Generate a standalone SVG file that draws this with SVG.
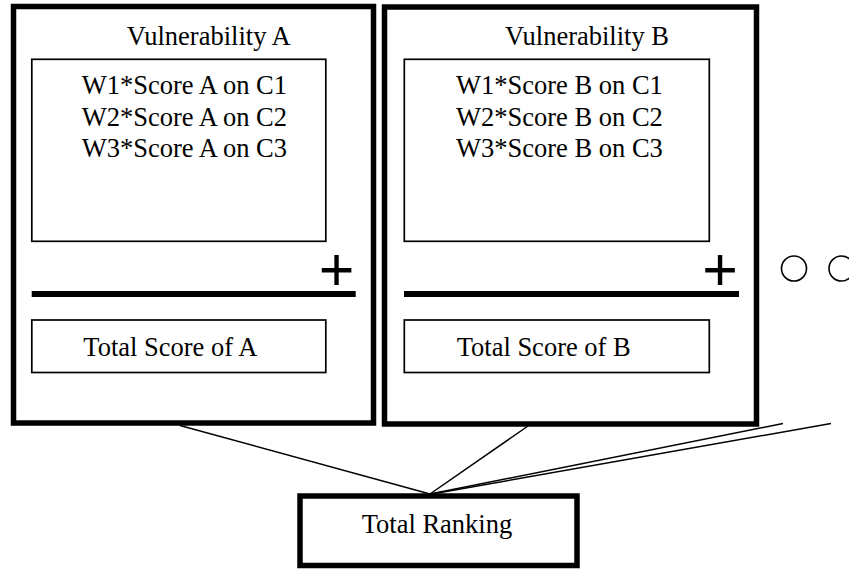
<svg xmlns="http://www.w3.org/2000/svg" width="849" height="569" viewBox="0 0 849 569">
<style>
  .outer { fill: #fff; stroke: #000; stroke-width: 5.5; }
  .inner { fill: #fff; stroke: #000; stroke-width: 1.7; }
  .bar { stroke: #000; stroke-width: 6; }
  .conn { stroke: #000; stroke-width: 1.5; fill: none; }
  .circ { fill: none; stroke: #000; stroke-width: 1.6; }
  text { font-family: "Liberation Serif", "Times New Roman", serif; font-size: 26.5px; fill: #000; }
  .plus { font-family: "Liberation Sans", Arial, sans-serif; font-size: 61px; text-anchor: middle; }
</style>
<rect x="0" y="0" width="849" height="569" fill="#fff"/>
<g id="vuln-a">
  <rect class="outer" x="13.5" y="6.5" width="360" height="416.5"/>
  <text x="126.7" y="45">Vulnerability A</text>
  <rect class="inner" x="31.8" y="59.3" width="294" height="182"/>
  <text x="81.7" y="94">W1*Score A on C1</text>
  <text x="81.7" y="125.5">W2*Score A on C2</text>
  <text x="81.7" y="157">W3*Score A on C3</text>
  <text class="plus" x="336.5" y="289.5">+</text>
  <line class="bar" x1="31.7" y1="294" x2="355.7" y2="294"/>
  <rect class="inner" x="31.8" y="320" width="294" height="52.5"/>
  <text x="83.3" y="356">Total Score of A</text>
</g>
<g id="vuln-b">
  <rect class="outer" x="384.5" y="7" width="372" height="417"/>
  <text x="505" y="45">Vulnerability B</text>
  <rect class="inner" x="404.3" y="59.3" width="305" height="182"/>
  <text x="456" y="94">W1*Score B on C1</text>
  <text x="456" y="125.5">W2*Score B on C2</text>
  <text x="456" y="157">W3*Score B on C3</text>
  <text class="plus" x="720" y="289.5">+</text>
  <line class="bar" x1="404" y1="294" x2="739" y2="294"/>
  <rect class="inner" x="404.3" y="320" width="305" height="52.5"/>
  <text x="456.7" y="356">Total Score of B</text>
</g>
<g id="ellipsis">
  <circle class="circ" cx="794" cy="268.5" r="12.5"/>
  <circle class="circ" cx="841.5" cy="268.5" r="12.5"/>
</g>
<g id="total-ranking">
  <rect class="outer" x="300" y="496" width="277" height="69.5"/>
  <text x="361.7" y="533">Total Ranking</text>
</g>
<g id="connectors">
  <line class="conn" x1="180" y1="425.5" x2="430" y2="494"/>
  <line class="conn" x1="528" y1="426" x2="430" y2="494"/>
  <line class="conn" x1="783" y1="423.5" x2="430" y2="494"/>
  <line class="conn" x1="831" y1="423.5" x2="432" y2="494"/>
</g>
</svg>
